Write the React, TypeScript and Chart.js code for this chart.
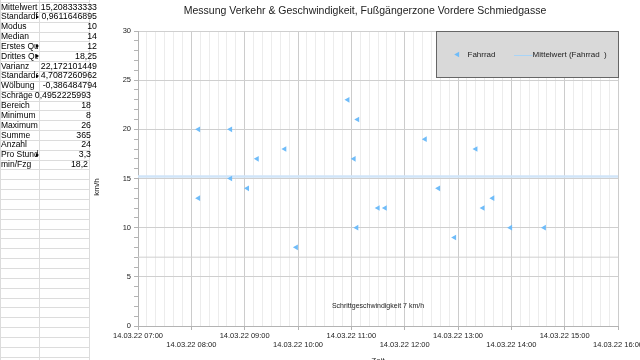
import React, { useEffect, useMemo, useRef } from 'react';
import { Chart, registerables } from 'chart.js';

Chart.register(...registerables);

const TITLE = 'Messung Verkehr & Geschwindigkeit, Fußgängerzone Vordere Schmiedgasse';
const DATE = '14.03.22';
const hourTicks = ['07:00', '08:00', '09:00', '10:00', '11:00', '12:00', '13:00', '14:00', '15:00', '16:00'];

// Fahrrad: passage time and speed (km/h)
const passTimes = ['08:08', '08:08', '08:44', '08:44', '09:03', '09:14', '09:45', '09:58', '10:56', '11:03', '11:06', '11:07', '11:30', '11:38', '12:23', '12:38', '12:56', '13:20', '13:28', '13:39', '13:59', '14:37'];
const speeds = [20, 13, 20, 15, 14, 17, 18, 8, 23, 17, 10, 21, 12, 12, 19, 14, 9, 18, 12, 13, 10, 10];

const meanSpeed = 15.208333333;
const walkingSpeed = 7;
const walkingLabel = 'Schrittgeschwindigkeit 7 km/h';

const statLabels = ['Mittelwert', 'Standardfehler', 'Modus', 'Median', 'Erstes Quartil', 'Drittes Quartil', 'Varianz', 'Standardabweichung', 'Wölbung', 'Schräge', 'Bereich', 'Minimum', 'Maximum', 'Summe', 'Anzahl', 'Pro Stunde', 'min/Fzg'];
const statValues = ['15,208333333', '0,9611646895', '10', '14', '12', '18,25', '22,172101449', '4,7087260962', '-0,386484794', '0,4952225993', '18', '8', '26', '365', '24', '3,3', '18,2'];

const FONT = '"Liberation Sans", Arial, sans-serif';
const BLUE = '#6fbcf9';
const ROW_H = 9.85;
const ROW0 = 2;
const LABEL_W = 38;

function toMinutes(t: string): number {
  const [h, m] = t.split(':').map(Number);
  return (h - 7) * 60 + m;
}

const overlayPlugin = {
  id: 'overlay',
  afterDraw(chart: any) {
    const { ctx, chartArea } = chart;
    const ys = chart.scales.y;
    ctx.save();
    ctx.fillStyle = '#222';
    ctx.textBaseline = 'middle';

    // Title
    ctx.font = `10.5px ${FONT}`;
    ctx.textAlign = 'center';
    ctx.fillText(TITLE, 365, 11.5);

    // Axis titles
    ctx.font = `8px ${FONT}`;
    ctx.save();
    ctx.translate(96.5, 187);
    ctx.rotate(-Math.PI / 2);
    ctx.fillText('km/h', 0, 0);
    ctx.restore();
    ctx.fillText('Zeit', (chartArea.left + chartArea.right) / 2, 361);

    // Walking speed label
    ctx.font = `7px ${FONT}`;
    ctx.fillText(walkingLabel, (chartArea.left + chartArea.right) / 2, ys.getPixelForValue(2));

    // Legend box
    const bw = 182, bh = 46;
    const bx = Math.round(chartArea.right - bw) + 0.5;
    const by = Math.round(chartArea.top) + 0.5;
    ctx.fillStyle = '#d9d9d9';
    ctx.fillRect(bx, by, bw, bh);
    ctx.strokeStyle = '#666666';
    ctx.lineWidth = 1;
    ctx.strokeRect(bx, by, bw, bh);

    const ly = by + 23;
    const tx = bx + 21, r = 3.3;
    ctx.fillStyle = BLUE;
    ctx.beginPath();
    ctx.moveTo(tx - r, ly);
    ctx.lineTo(tx + r / 2, ly - r * 0.866);
    ctx.lineTo(tx + r / 2, ly + r * 0.866);
    ctx.closePath();
    ctx.fill();
    ctx.fillStyle = '#222';
    ctx.font = `8px ${FONT}`;
    ctx.textAlign = 'left';
    ctx.fillText(chart.data.datasets[0].label, bx + 31, ly);
    ctx.strokeStyle = '#a8d4f7';
    ctx.beginPath();
    ctx.moveTo(bx + 77.5, Math.round(ly) + 0.5);
    ctx.lineTo(bx + 96, Math.round(ly) + 0.5);
    ctx.stroke();
    ctx.fillText(chart.data.datasets[1].label, bx + 96, ly);
    ctx.restore();
  },
};

export default function App() {
  const canvasRef = useRef<HTMLCanvasElement>(null);

  const truncated = useMemo(() => {
    const c = document.createElement('canvas').getContext('2d')!;
    c.font = `8.5px ${FONT}`;
    return statLabels.map((l) => c.measureText(l).width > LABEL_W);
  }, []);

  useEffect(() => {
    const canvas = canvasRef.current!;
    const pts = passTimes.map((t, i) => ({ x: toMinutes(t), y: speeds[i] }));
    const xMax = toMinutes(hourTicks[hourTicks.length - 1]);
    const chart = new Chart(canvas, {
      type: 'scatter',
      data: {
        datasets: [
          {
            label: 'Fahrrad',
            data: pts,
            pointStyle: 'triangle',
            rotation: -90,
            pointRadius: 3.3,
            backgroundColor: BLUE,
            borderWidth: 0,
            order: 0,
          },
          {
            label: 'Mittelwert (Fahrrad  )',
            data: [{ x: 0, y: meanSpeed }, { x: xMax, y: meanSpeed }],
            showLine: true,
            borderColor: '#d0e5f9',
            borderWidth: 2.5,
            pointRadius: 0,
            order: 1,
          },
          {
            label: walkingLabel,
            data: [{ x: 0, y: walkingSpeed }, { x: xMax, y: walkingSpeed }],
            showLine: true,
            borderColor: '#cfcfcf',
            borderWidth: 1,
            pointRadius: 0,
            order: 2,
          },
        ],
      } as any,
      options: {
        responsive: false,
        animation: false,
        devicePixelRatio: 1,
        layout: { padding: { top: 31, right: 82, bottom: 0, left: 0 } },
        plugins: {
          legend: { display: false },
          title: { display: false },
          tooltip: { enabled: false },
        },
        scales: {
          x: {
            type: 'linear',
            min: 0,
            max: xMax,
            afterFit: (s: any) => { s.height = 54; },
            ticks: {
              stepSize: 10,
              autoSkip: false,
              maxRotation: 0,
              minRotation: 0,
              padding: 1,
              color: '#222',
              font: { family: FONT, size: 7.5, lineHeight: 1.2 },
              callback: (v: any) => {
                const m = Number(v);
                if (m % 60 !== 0) return '';
                const i = m / 60;
                const lbl = `${DATE} ${hourTicks[i]}`;
                return i % 2 === 0 ? lbl : ['', lbl];
              },
            },
            grid: {
              color: (c: any) => (c.tick && c.tick.value % 60 === 0 ? '#cccccc' : '#ececec'),
              tickColor: (c: any) => (c.tick && c.tick.value % 60 === 0 ? '#b3b3b3' : 'rgba(0,0,0,0)'),
              tickLength: 4,
            },
            border: { color: '#b3b3b3' },
          },
          y: {
            min: 0,
            max: 30,
            afterFit: (s: any) => { s.width = 138; },
            ticks: {
              stepSize: 1,
              autoSkip: false,
              padding: 3,
              color: '#222',
              font: { family: FONT, size: 7.5, lineHeight: 1.2 },
              callback: (v: any) => (Number(v) % 5 === 0 ? String(v) : ''),
            },
            grid: {
              color: (c: any) => (c.tick && c.tick.value % 5 === 0 ? '#cfcfcf' : 'rgba(0,0,0,0)'),
              tickColor: '#b3b3b3',
              tickLength: 4,
            },
            border: { color: '#b3b3b3' },
          },
        },
      } as any,
      plugins: [overlayPlugin],
    });
    return () => chart.destroy();
  }, []);

  const gridRows = Array.from({ length: 37 }, (_, k) => k);

  return (
    <div style={{ position: 'fixed', left: 0, top: 0, width: 640, height: 360, overflow: 'hidden', background: '#fff' }}>
      <canvas ref={canvasRef} width={700} height={380} style={{ position: 'absolute', left: 0, top: 0, width: 700, height: 380 }} />
      <div style={{ position: 'absolute', left: 0, top: 0, width: 99, height: 360, fontFamily: FONT, fontSize: 8.5, color: '#000' }}>
        {gridRows.map((k) => (
          <div key={'h' + k} style={{ position: 'absolute', left: 0, width: 90, top: Math.round(ROW0 + k * ROW_H), height: 1, background: '#dcdcdc' }} />
        ))}
        {[0, 39, 89].map((x) => (
          <div key={'v' + x} style={{ position: 'absolute', top: 0, left: x, width: 1, height: 360, background: '#dcdcdc' }} />
        ))}
        {statLabels.map((l, k) => (
          <React.Fragment key={'l' + k}>
            <div style={{ position: 'absolute', left: 1, top: ROW0 + k * ROW_H + 0.5, width: truncated[k] ? LABEL_W - 1 : 60, height: ROW_H, lineHeight: ROW_H + 'px', overflow: 'hidden', whiteSpace: 'nowrap' }}>{l}</div>
            {truncated[k] && (
              <div style={{ position: 'absolute', left: LABEL_W - 2, top: ROW0 + k * ROW_H + 3, width: 0, height: 0, borderTop: '2.5px solid transparent', borderBottom: '2.5px solid transparent', borderLeft: '3px solid #000' }} />
            )}
          </React.Fragment>
        ))}
        {statValues.map((v, k) => (
          <div key={'v' + k} style={{ position: 'absolute', left: 0, width: k < 9 ? 97 : k < 16 ? 91 : 88, top: ROW0 + k * ROW_H + 0.5, height: ROW_H, lineHeight: ROW_H + 'px', textAlign: 'right', whiteSpace: 'nowrap', fontSize: 8.8 }}>{v}</div>
        ))}
      </div>
    </div>
  );
}
